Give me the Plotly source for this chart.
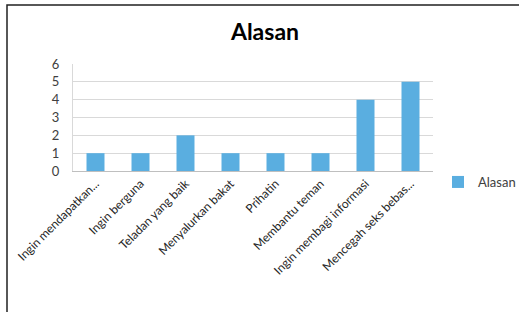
import plotly.graph_objects as go

categories = ["Ingin mendapatkan...", "Ingin berguna", "Teladan yang baik", "Menyalurkan bakat",
              "Prihatin", "Membantu teman", "Ingin membagi informasi", "Mencegah seks bebas..."]
values = [1, 1, 2, 1, 1, 1, 4, 5]
series_name = "Alasan"
y_ticks = [0, 1, 2, 3, 4, 5, 6]

W, H = 519, 312
L, R, T, B = 73, 86, 64, 141
pw, ph = W - L - R, H - T - B
FONT = "Lato, Open Sans, Liberation Sans, sans-serif"

def px_x(x):
    return (x - L) / pw

def px_y(y):
    return (H - B - y) / ph

fig = go.Figure()
fig.add_trace(go.Bar(x=categories, y=values, name=series_name,
                     marker=dict(color="#5aaee0", line=dict(width=0)),
                     showlegend=True))

fig.update_layout(
    width=W, height=H,
    margin=dict(l=L, r=R, t=T, b=B, autoexpand=False),
    paper_bgcolor="white", plot_bgcolor="white",
    font=dict(family=FONT, color="#404040"),
    title=dict(text="<b>Alasan</b>", x=265 / W, xanchor="center", y=1 - 32 / H, yanchor="middle",
               xref="container", yref="container",
               font=dict(size=23, color="black", family=FONT)),
    bargap=0.6,
    showlegend=True,
    legend=dict(x=438 / W, y=1 - 182 / H, xanchor="left", yanchor="middle",
                xref="container", yref="container",
                font=dict(size=13, color="#404040", family=FONT), bgcolor="rgba(0,0,0,0)",
                itemwidth=30),
    xaxis=dict(tickangle=-45, tickfont=dict(size=12, color="#262626"), showgrid=False,
               showline=True, linecolor="#bfbfbf", linewidth=1, ticks="", fixedrange=True,
               automargin=False),
    yaxis=dict(range=[0, 6], tickvals=y_ticks, tickfont=dict(size=13, color="#404040"),
               showgrid=True, gridcolor="#d9d9d9", gridwidth=1, zeroline=False,
               showline=True, linecolor="#d9d9d9", ticks="", ticklen=0, fixedrange=True,
               ticklabelstandoff=10, automargin=False),
)

fig.add_shape(type="rect", xref="paper", yref="paper",
              x0=px_x(7), x1=px_x(530), y0=px_y(330), y1=px_y(5),
              line=dict(color="#202020", width=1.5), fillcolor="rgba(0,0,0,0)", layer="above")

fig.write_html("out.html", config={"displayModeBar": False},
               post_script="document.body.style.margin='0';")
